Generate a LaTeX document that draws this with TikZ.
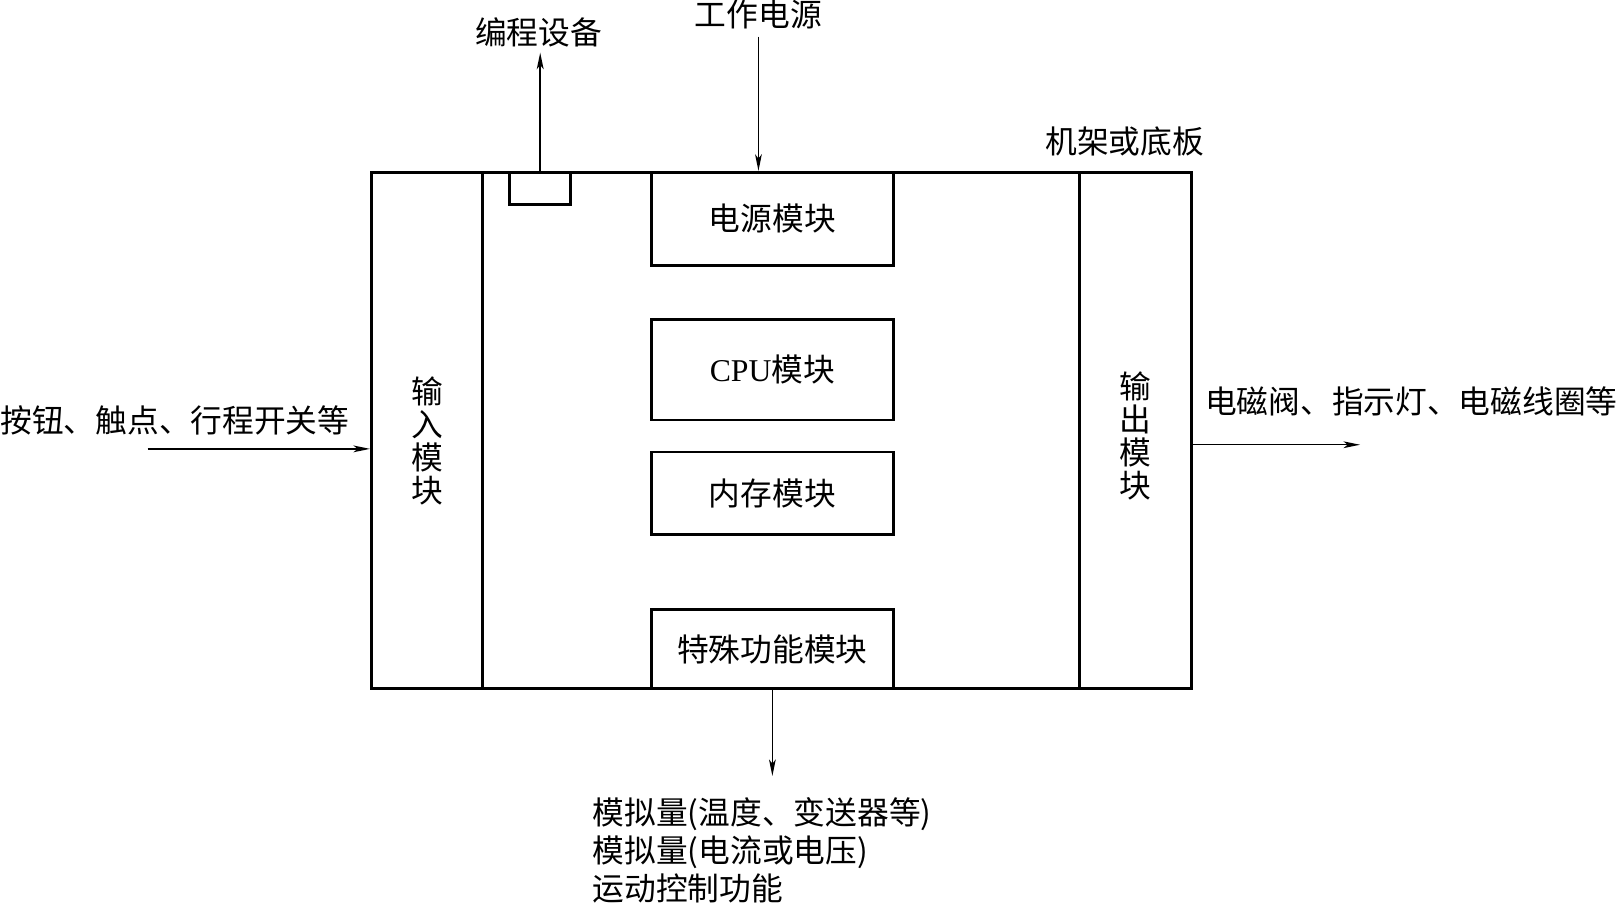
\documentclass[tikz,border=0pt]{standalone}
\usepackage{fontspec}
\setmainfont{Liberation Serif}
\newfontfamily\cjk{Noto Sans CJK SC}
\usetikzlibrary{arrows.meta}

\begin{document}
\begin{tikzpicture}[x=1cm,y=1cm]
  \tikzset{plcbox/.style={draw=black,line width=1.6pt,inner sep=0pt,font=\cjk\fontsize{17.5}{20}\selectfont}}
  \tikzset{plclabel/.style={inner sep=0pt,font=\cjk\fontsize{17.5}{20}\selectfont}}
  \tikzset{plcarrow/.style={draw=black,line width=0.8pt,-{Stealth[length=0.32cm,width=0.13cm,inset=0.08cm]}}}

  \useasboundingbox (0,0) rectangle (31.36,17.54);

  \node[plcbox,minimum width=15.9cm,minimum height=10cm] (rack) at (15.15,9.2) {};
  \node[plcbox,minimum width=2.16cm,minimum height=10cm] (inmod) at (8.28,9.2) {};
  \node[plcbox,minimum width=2.18cm,minimum height=10cm] (outmod) at (22.01,9.2) {};
  \node[plcbox,minimum width=1.18cm,minimum height=0.62cm] (port) at (10.47,13.89) {};

  \node[plcbox,minimum width=4.7cm,minimum height=1.8cm] (power) at (14.97,13.3) {电源模块};
  \node[plcbox,minimum width=4.7cm,minimum height=1.94cm] (cpu) at (14.97,10.37) {{\rmfamily CPU}模块};
  \node[plcbox,minimum width=4.7cm,minimum height=1.6cm] (memory) at (14.97,7.98) {内存模块};
  \node[plcbox,minimum width=4.7cm,minimum height=1.52cm] (special) at (14.97,4.96) {特殊功能模块};

  \node[plclabel,align=center,font=\cjk\fontsize{17.5}{18.2}\selectfont] (intext) at (8.28,9.0) {输\\入\\模\\块};
  \node[plclabel,align=center,font=\cjk\fontsize{17.5}{18.2}\selectfont] (outtext) at (22.01,9.1) {输\\出\\模\\块};
  \node[plclabel] (prog) at (10.44,16.92) {编程设备};
  \node[plclabel] (supply) at (14.7,17.26) {工作电源};
  \node[plclabel] (rackname) at (21.8,14.8) {机架或底板};
  \node[plclabel,anchor=west] (inputs) at (0,9.4) {按钮、触点、行程开关等};
  \node[plclabel,anchor=east] (outputs) at (31.36,9.76) {电磁阀、指示灯、电磁线圈等};
  \node[plclabel,anchor=west,align=left,font=\cjk\fontsize{17.5}{21}\selectfont] (analog) at (11.48,1.06) {模拟量(温度、变送器等)\\模拟量(电流或电压)\\运动控制功能};

  \coordinate (inbeg) at (2.86,8.84);
  \coordinate (outend) at (26.36,8.92);
  \coordinate (anaend) at (14.88,2.5);

  \draw[plcarrow,line width=1.4pt,shorten >=3pt] (port.north) -- (port.north |- prog.south);
  \draw[plcarrow,shorten <=4pt] (supply.south) -- (supply.south |- power.north);
  \draw[plcarrow] (inbeg) -- (inbeg -| rack.west);
  \draw[plcarrow] (outend -| rack.east) -- (outend);
  \draw[plcarrow] (special.south) -- (special.south |- anaend);
\end{tikzpicture}
\end{document}
